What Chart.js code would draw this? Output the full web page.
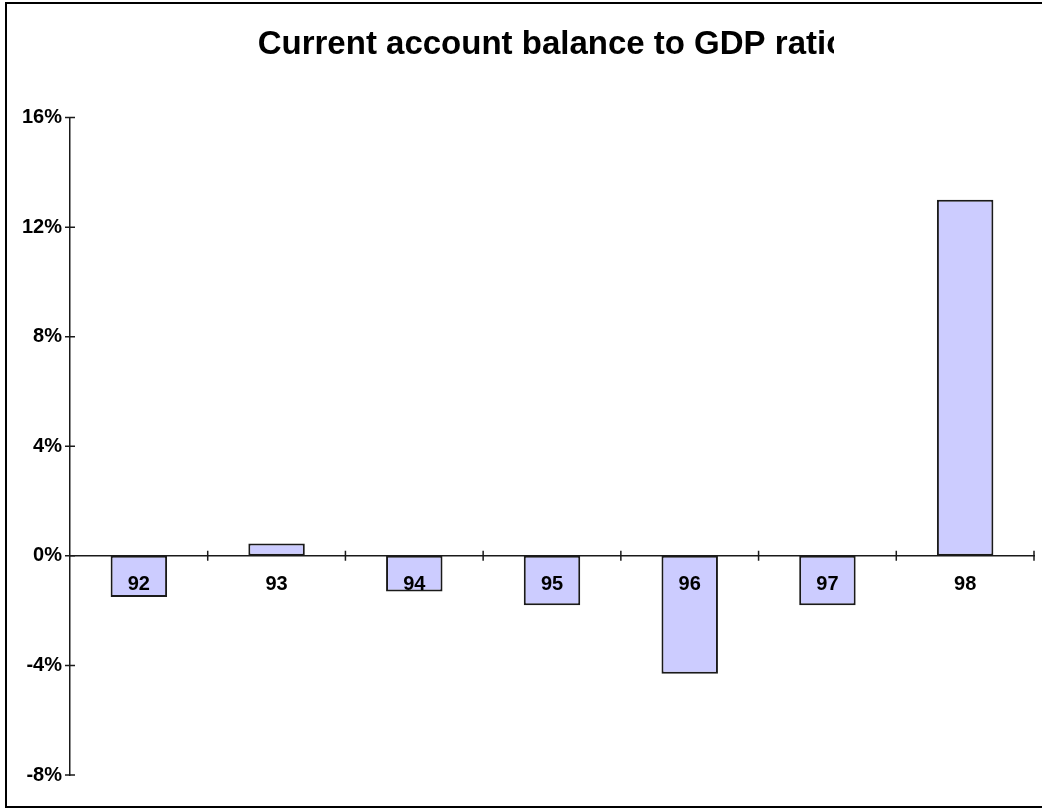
<!DOCTYPE html>
<html>
<head>
<meta charset="utf-8">
<title>Current account balance to GDP ratio</title>
<script src="https://cdn.jsdelivr.net/npm/chart.js@4/dist/chart.umd.min.js"></script>
<style>
    html, body { margin: 0; padding: 0; background: #fff; overflow: hidden; }
    #wrap  { position: relative; width: 1042px; height: 810px; }
    #frame { position: absolute; left: 5px; top: 2px; width: 1100px; height: 802px;
             border: 2.5px solid #000; pointer-events: none; }
</style>
</head>
<body>
<div id="wrap">
    <canvas id="chart" width="1042" height="810"></canvas>
    <div id="frame"></div>
</div>
<script>
const years   = ['92', '93', '94', '95', '96', '97', '98'];
const balance = [-1.5, 0.45, -1.3, -1.8, -4.3, -1.8, 13.0];
const yTicks  = [-8, -4, 0, 4, 8, 12, 16];

const FONT = "'Liberation Sans', Arial, sans-serif";
const AXIS = '#1a1a1a';

// cross-shaped tick marks on both axes, like the old spreadsheet chart
const crossTicks = {
    id: 'crossTicks',
    afterDraw(chart) {
        const { ctx, scales: { x, y } } = chart;
        const zero = y.getPixelForValue(0);
        const step = x.width / years.length;
        ctx.save();
        ctx.strokeStyle = AXIS;
        ctx.lineWidth = 1.5;
        ctx.beginPath();
        yTicks.forEach(v => {
            const py = y.getPixelForValue(v);
            ctx.moveTo(y.right - 5, py); ctx.lineTo(y.right + 5, py);
        });
        for (let i = 1; i <= years.length; i++) {
            const px = x.left + i * step;
            ctx.moveTo(px, zero - 5); ctx.lineTo(px, zero + 5);
        }
        ctx.stroke();

        // title runs past its box in the original and gets cut off
        const t = chart.titleBlock;
        ctx.fillStyle = '#fff';
        ctx.fillRect(834, t.top, 60, t.height - 20);
        ctx.restore();
    }
};

new Chart(document.getElementById('chart').getContext('2d'), {
    type: 'bar',
    data: {
        labels: years,
        datasets: [{
            label: 'Current account balance / GDP',
            data: balance,
            backgroundColor: '#ccccff',
            borderColor: AXIS,
            borderWidth: 2,
            borderSkipped: false,
            barPercentage: 0.41,
            categoryPercentage: 1
        }]
    },
    plugins: [crossTicks],
    options: {
        responsive: false,
        animation: false,
        devicePixelRatio: 1,
        layout: { padding: { top: 0, left: 0, right: 8, bottom: 35 } },
        plugins: {
            legend: { display: false },
            tooltip: { enabled: false },
            title: {
                display: true,
                fullSize: false,
                text: 'Current account balance to GDP ratio',
                color: '#000',
                font: { family: FONT, size: 33, weight: 'bold', lineHeight: 1.2 },
                padding: { top: 25, bottom: 53 }
            }
        },
        scales: {
            x: {
                position: { y: 0 },
                offset: true,
                grid: { display: false, drawTicks: false },
                border: { display: true, color: AXIS, width: 1.5, z: 1 },
                ticks: {
                    z: 1,
                    color: '#000', padding: 17, maxRotation: 0, autoSkip: false,
                    font: { family: FONT, size: 20, weight: 'bold' }
                },
                afterFit: s => { s.height = 0; }
            },
            y: {
                min: -8, max: 16,
                afterBuildTicks: s => { s.ticks = yTicks.map(v => ({ value: v })); },
                grid: { display: false, drawTicks: false },
                border: { display: true, color: AXIS, width: 1.5, z: 1 },
                ticks: {
                    z: 1,
                    color: '#000', padding: 8,
                    font: { family: FONT, size: 20, weight: 'bold' },
                    callback: v => v + '%'
                },
                afterFit: s => { s.width = 70; }
            }
        }
    }
});
</script>
</body>
</html>
